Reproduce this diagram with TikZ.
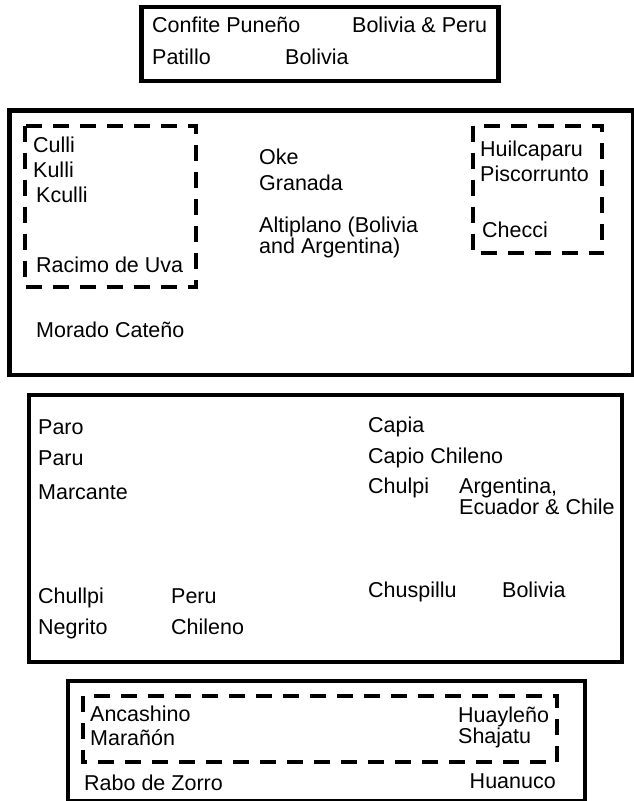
\documentclass[tikz,border=0pt]{standalone}
\usepackage{fontspec}
\setmainfont{Liberation Sans}
\begin{document}
\begin{tikzpicture}[x=1pt,y=-1pt,
  outer/.style={draw=black,line width=4.5pt},
  dbox/.style={draw=black,line width=4pt,dash pattern=on 16pt off 11pt},
  lbl/.style={anchor=base west,inner sep=0pt,font=\fontsize{21.5}{20.5}\selectfont},
  rlbl/.style={anchor=base east,inner sep=0pt,font=\fontsize{21.5}{20.5}\selectfont}]
\useasboundingbox (0,0) rectangle (634,801);
\fill[white] (0,0) rectangle (634,801);
% top box
\draw[outer] (141.5,7) rectangle (498.5,81);
\node[lbl] (cp) at (152,32) {Confite Puneño};
\node[lbl] (bp) at (352,32) {Bolivia \& Peru};
\node[lbl] (pa) at (152,64) {Patillo};
\node[lbl] (bo1) at (285,64) {Bolivia};
% box 2
\draw[outer] (9.5,110.5) rectangle (633,375);
\draw[dbox] (25,125.5) rectangle (196,287);
\node[lbl] (cu) at (33,152) {Culli};
\node[lbl] (ku) at (33,177) {Kulli};
\node[lbl] (kc) at (36,202) {Kculli};
\node[lbl] (ru) at (36,272) {Racimo de Uva};
\node[lbl] (mc) at (36,337) {Morado Cateño};
\node[lbl] (ok) at (259,164) {Oke};
\node[lbl] (gr) at (259,190) {Granada};
\node[lbl] (al) at (259,232) {\begin{tabular}[t]{@{}l@{}}Altiplano (Bolivia\\and Argentina)\end{tabular}};
\draw[dbox] (473,125.5) rectangle (602,253);
\node[lbl] (hu) at (480,156) {Huilcaparu};
\node[lbl] (pi) at (480,181) {Piscorrunto};
\node[lbl] (ch) at (482,237) {Checci};
% box 3
\draw[outer] (29,395) rectangle (622,662);
\node[lbl] (po) at (38,434) {Paro};
\node[lbl] (pu) at (38,465) {Paru};
\node[lbl] (ma) at (38,499) {Marcante};
\node[lbl] (cl) at (38,603) {Chullpi};
\node[lbl] (ne) at (38,634) {Negrito};
\node[lbl] (pe) at (171,603) {Peru};
\node[lbl] (chl) at (171,634) {Chileno};
\node[lbl] (ca) at (368,432) {Capia};
\node[lbl] (cc) at (368,463) {Capio Chileno};
\node[lbl] (cu2) at (368,493) {Chulpi};
\node[lbl] (ar) at (459,493) {\begin{tabular}[t]{@{}l@{}}Argentina,\\Ecuador \& Chile\end{tabular}};
\node[lbl] (cs) at (368,597) {Chuspillu};
\node[lbl] (bo2) at (502,597) {Bolivia};
% box 4
\draw[outer] (68,681) rectangle (585,801.5);
\draw[dbox] (83,696) rectangle (557,762);
\node[lbl] (an) at (90,721) {Ancashino};
\node[lbl] (mn) at (90,745) {Marañón};
\node[lbl] (hy) at (458,722) {\begin{tabular}[t]{@{}l@{}}Huayleño\\Shajatu\end{tabular}};
\node[lbl] (rz) at (84,790) {Rabo de Zorro};
\node[rlbl] (hn) at (556,788) {Huanuco};
\end{tikzpicture}
\end{document}
